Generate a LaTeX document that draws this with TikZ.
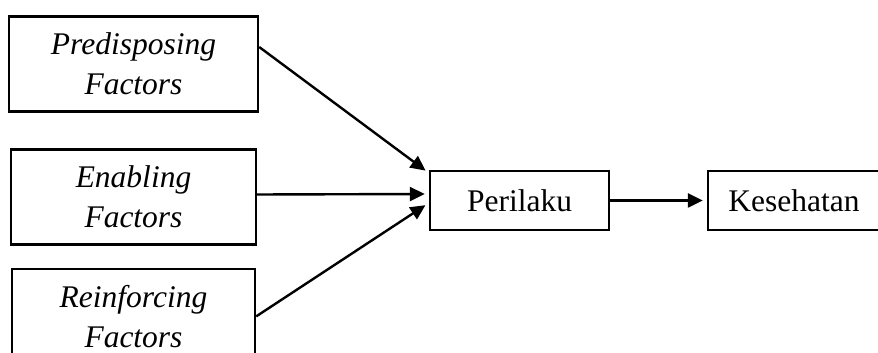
\documentclass[tikz,border=0pt]{standalone}
\usepackage{fontspec}
\setmainfont{Liberation Serif}
\usetikzlibrary{
        arrows.meta,
        positioning
    }
\tikzset{>={Triangle[length=7.5pt,width=7pt]},shorten >=2pt,auto,node distance=1cm}
\tikzset{factor/.style={draw,line width=1.2pt,minimum height=47.5pt,align=center,
        font=\fontsize{15.75}{20}\selectfont\itshape}}
\tikzset{result/.style={draw,line width=1.2pt,minimum height=29.5pt,
        font=\fontsize{15.75}{19}\selectfont}}

\begin{document}
\begin{tikzpicture}[x=0.5pt,y=0.5pt]
                \useasboundingbox (0,0) rectangle (878,353);
                \clip (0,0) rectangle (878,353);

                    \node[factor,minimum width=124.5pt] (pre) at (133.5,289) {Predisposing\\Factors};
                    \node[factor,minimum width=122.5pt] (ena) [below=17.8pt of pre] {Enabling\\Factors};
                    \node[factor,minimum width=121.5pt] (rei) [below=11pt of ena] {Reinforcing\\Factors};
                    \node[result,minimum width=89.5pt] (per) at (519.5,152.5) {Perilaku};
                    \node[result,minimum width=86pt] (kes) [right=48.3pt of per] {Kesehatan};
                \path[->,line width=1.2pt]
                        ([yshift=8.5pt]pre.east)  edge  ([yshift=13.75pt]per.west)
                        ([yshift=1.25pt]ena.east)  edge  ([yshift=3.25pt]per.west)
                        (rei.east)  edge  ([yshift=-1.25pt]per.west)
                        (per)  edge  (kes)
                        ;
            \end{tikzpicture}
\end{document}
